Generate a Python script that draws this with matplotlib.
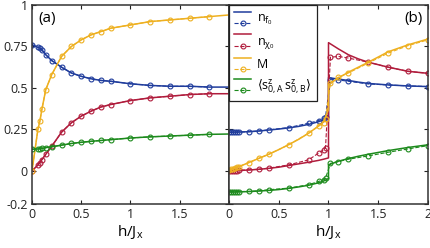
import numpy as np
import matplotlib
matplotlib.use('Agg')
import matplotlib.pyplot as plt
from matplotlib.legend_handler import HandlerBase
from matplotlib.lines import Line2D

plt.rcParams['font.family'] = ['Open Sans', 'DejaVu Sans']
plt.rcParams['mathtext.fontset'] = 'dejavusans'

# colours
c_nf = '#1f3c9c'
c_nx = '#b01c3c'
c_m = '#eeb020'
c_ss = '#1c8a1c'

# ---- panel (a) ----
h_a = [0, 0.06, 0.08, 0.1, 0.14, 0.2, 0.3, 0.4, 0.5, 0.6, 0.7, 0.8, 1.0, 1.2, 1.4, 1.6, 1.8, 2.0]
nf_a = [0.76, 0.745, 0.74, 0.73, 0.70, 0.665, 0.625, 0.59, 0.57, 0.555, 0.545, 0.54, 0.525, 0.515, 0.51, 0.51, 0.505, 0.505]
nx_a = [0, 0.035, 0.05, 0.067, 0.1, 0.148, 0.233, 0.29, 0.33, 0.36, 0.385, 0.40, 0.424, 0.44, 0.45, 0.46, 0.465, 0.465]
m_a = [0, 0.25, 0.30, 0.37, 0.49, 0.58, 0.69, 0.75, 0.79, 0.82, 0.84, 0.86, 0.88, 0.90, 0.91, 0.92, 0.93, 0.94]
ss_a = [0.13, 0.132, 0.133, 0.135, 0.14, 0.145, 0.155, 0.165, 0.172, 0.178, 0.183, 0.188, 0.198, 0.205, 0.21, 0.215, 0.22, 0.222]

# ---- panel (b), solid curves (jump at h = 1) ----
hb_line = [0, 0.1, 0.2, 0.3, 0.4, 0.5, 0.6, 0.7, 0.8, 0.9, 0.95, 1.0,
           1.0, 1.1, 1.2, 1.3, 1.4, 1.6, 1.8, 2.0]
nf_b = [0.233, 0.234, 0.236, 0.240, 0.246, 0.252, 0.259, 0.268, 0.280, 0.296, 0.307, 0.322,
        0.562, 0.553, 0.545, 0.535, 0.527, 0.518, 0.512, 0.508]
nx_b = [0, 0.002, 0.005, 0.009, 0.015, 0.022, 0.032, 0.042, 0.052, 0.063, 0.07, 0.078,
        0.773, 0.735, 0.70, 0.675, 0.655, 0.625, 0.60, 0.588]
m_b = [0, 0.025, 0.05, 0.075, 0.10, 0.128, 0.158, 0.19, 0.227, 0.27, 0.295, 0.37,
       0.52, 0.56, 0.595, 0.625, 0.655, 0.718, 0.76, 0.795]
ss_b = [-0.128, -0.127, -0.125, -0.122, -0.118, -0.113, -0.106, -0.097, -0.087, -0.072, -0.062, -0.046,
        0.036, 0.058, 0.074, 0.088, 0.10, 0.122, 0.141, 0.157]

# ---- panel (b), numerical points ----
hb_pts = [0, 0.02, 0.04, 0.06, 0.08, 0.1, 0.2, 0.3, 0.4, 0.6, 0.8, 0.9, 0.95, 0.97,
          1.02, 1.1, 1.2, 1.4, 1.6, 1.8, 2.0]
nf_bp = [0.233, 0.233, 0.233, 0.234, 0.234, 0.234, 0.236, 0.241, 0.247, 0.261, 0.287, 0.303, 0.317, 0.327,
         0.55, 0.548, 0.54, 0.524, 0.518, 0.512, 0.508]
nx_bp = [0, 0.001, 0.001, 0.002, 0.002, 0.003, 0.006, 0.010, 0.016, 0.036, 0.066, 0.107, 0.127, 0.14,
         0.685, 0.69, 0.68, 0.655, 0.625, 0.60, 0.588]
m_bp = [0.005, 0.01, 0.013, 0.017, 0.021, 0.026, 0.05, 0.076, 0.10, 0.157, 0.227, 0.27, 0.29, 0.31,
        0.53, 0.565, 0.59, 0.65, 0.71, 0.755, 0.79]
ss_bp = [-0.126, -0.126, -0.126, -0.125, -0.125, -0.125, -0.124, -0.12, -0.114, -0.104, -0.084, -0.064, -0.054, -0.044,
         0.045, 0.056, 0.07, 0.09, 0.112, 0.132, 0.152]

colors = [c_nf, c_nx, c_m, c_ss]
labels = [r'$\mathregular{n_{f_0}}$', r'$\mathregular{n_{\chi_0}}$', 'M',
          r'$\langle\mathregular{s^z_{0,A}\,s^z_{0,B}}\rangle$']


class PairHandler(HandlerBase):
    def create_artists(self, legend, orig_handle, xdescent, ydescent, width, height, fontsize, trans):
        c = orig_handle.get_color()
        x0, x1 = -xdescent, width - xdescent
        top = Line2D([x0, x1], [height * 0.9 - ydescent] * 2, color=c, lw=1.1)
        bot = Line2D([x0, x1], [height * 0.15 - ydescent] * 2, color=c, lw=0.8, ls='--')
        mk = Line2D([(x0 + x1) / 2], [height * 0.15 - ydescent], marker='o', ms=3.5,
                    mfc='none', mec=c, mew=0.8, ls='none')
        for a in (top, bot, mk):
            a.set_transform(trans)
        return [top, bot, mk]


fig = plt.figure(figsize=(4.31, 2.48), dpi=100)
ax1 = fig.add_axes([32 / 431, 1 - 204 / 248, 197 / 431, 199 / 248])
ax2 = fig.add_axes([229 / 431, 1 - 204 / 248, 199 / 431, 199 / 248])

for y, c in zip([nf_a, nx_a, m_a, ss_a], colors):
    ax1.plot(h_a, y, color=c, lw=1.1)
    ax1.plot(h_a[:-1], y[:-1], color=c, lw=0.8, ls='--', marker='o', ms=3.5,
             mfc='none', mew=0.8)

solid = []
for y, yp, c in zip([nf_b, nx_b, m_b, ss_b], [nf_bp, nx_bp, m_bp, ss_bp], colors):
    l, = ax2.plot(hb_line, y, color=c, lw=1.1)
    solid.append(l)
    ax2.plot(hb_pts, yp, color=c, lw=0.8, ls='--', marker='o', ms=3.5,
             mfc='none', mew=0.8)

for ax in (ax1, ax2):
    ax.set_xlim(0, 2)
    ax.set_ylim(-0.2, 1)
    ax.set_xticks([0, 0.5, 1, 1.5, 2])
    ax.set_yticks([-0.2, 0, 0.25, 0.5, 0.75, 1])
    ax.tick_params(direction='in', length=3, width=0.8, top=True, right=True,
                   labelsize=9, colors='#222222', pad=3)
    for s in ax.spines.values():
        s.set_linewidth(1.1)
        s.set_color('#333333')
    ax.set_xlabel(r'h/J$_\mathregular{x}$', fontsize=11, labelpad=1)

ax1.set_xticklabels(['0', '0.5', '1', '1.5', ''])
ax1.set_yticklabels(['-0.2', '0', '0.25', '0.5', '0.75', '1'])
ax2.set_xticklabels(['0', '0.5', '1', '1.5', '2'])
ax2.set_yticklabels([])

ax1.text(0.03, 0.97, '(a)', transform=ax1.transAxes, ha='left', va='top', fontsize=11)
ax2.text(0.975, 0.97, '(b)', transform=ax2.transAxes, ha='right', va='top', fontsize=11)

leg = ax2.legend(solid, labels, handler_map={Line2D: PairHandler()},
                 loc='upper left', bbox_to_anchor=(0, 1), borderaxespad=0,
                 fontsize=9, handlelength=1.4, handleheight=1.5, handletextpad=0.45,
                 labelspacing=0.45, borderpad=0.4, fancybox=False, framealpha=1)
leg.get_frame().set_edgecolor('#222222')
leg.get_frame().set_linewidth(0.9)

fig.savefig('out.png', dpi=100)
